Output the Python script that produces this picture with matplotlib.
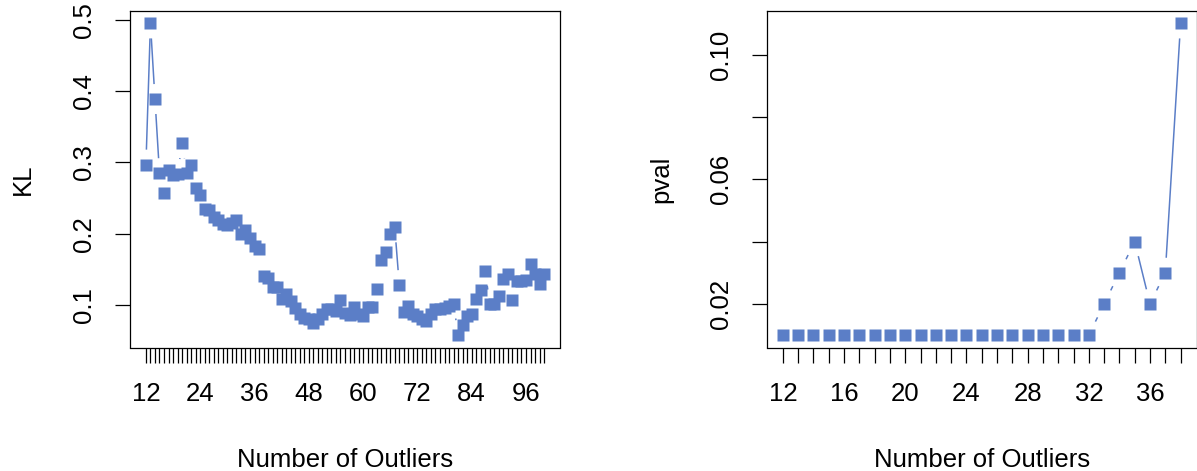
import matplotlib.pyplot as plt
import numpy as np

# Left panel: KL vs number of outliers
n_left = list(range(12, 101))
kl = [0.297, 0.495, 0.389, 0.285, 0.257, 0.289, 0.282, 0.284, 0.327, 0.285,
      0.297, 0.264, 0.254, 0.235, 0.234, 0.223, 0.219, 0.214, 0.212, 0.215,
      0.220, 0.200, 0.205, 0.194, 0.183, 0.178, 0.141, 0.138, 0.126, 0.125,
      0.108, 0.115, 0.106, 0.096, 0.087, 0.082, 0.080, 0.075, 0.081, 0.087,
      0.094, 0.094, 0.092, 0.107, 0.089, 0.086, 0.098, 0.087, 0.085, 0.098,
      0.098, 0.122, 0.163, 0.175, 0.200, 0.209, 0.128, 0.090, 0.099, 0.087,
      0.085, 0.080, 0.078, 0.087, 0.094, 0.095, 0.096, 0.099, 0.102, 0.058,
      0.072, 0.084, 0.088, 0.109, 0.121, 0.148, 0.101, 0.102, 0.113, 0.137,
      0.144, 0.107, 0.134, 0.134, 0.135, 0.158, 0.144, 0.129, 0.143]
left_xlabels = [12, 24, 36, 48, 60, 72, 84, 96]
left_yticks = [0.1, 0.2, 0.3, 0.4, 0.5]

# Right panel: pval vs number of outliers
n_right = list(range(12, 39))
pval = [0.01, 0.01, 0.01, 0.01, 0.01, 0.01, 0.01, 0.01, 0.01, 0.01,
        0.01, 0.01, 0.01, 0.01, 0.01, 0.01, 0.01, 0.01, 0.01, 0.01,
        0.01, 0.02, 0.03, 0.04, 0.02, 0.03, 0.11]
right_xlabels = [12, 16, 20, 24, 28, 32, 36]
right_yticks = [0.02, 0.04, 0.06, 0.08, 0.10]
right_ylabels = ['0.02', '', '0.06', '', '0.10']

plt.rcParams['font.family'] = ['Liberation Sans', 'DejaVu Sans']
plt.rcParams['font.size'] = 18.5

color = '#5B7EC7'
W, H = 1197, 471

fig = plt.figure(figsize=(W / 100, H / 100), dpi=100)
ax1 = fig.add_axes([130 / W, 1 - 347.5 / H, 430 / W, 336.5 / H])
ax2 = fig.add_axes([767 / W, 1 - 347.5 / H, 429.5 / W, 336.5 / H])


def r_range(v):
    # R style 4% padding
    lo, hi = min(v), max(v)
    pad = 0.04 * (hi - lo)
    return lo - pad, hi + pad


def draw(ax, x, y):
    ax.set_xlim(r_range(x))
    ax.set_ylim(r_range(y))
    # type = "b": line segments with a gap around every point
    pts = ax.transData.transform(np.column_stack([x, y]))
    gap = 15
    inv = ax.transData.inverted()
    for p, q in zip(pts[:-1], pts[1:]):
        d = q - p
        L = np.hypot(d[0], d[1])
        if L > 2 * gap:
            u = d / L
            seg = inv.transform(np.array([p + u * gap, q - u * gap]))
            ax.plot(seg[:, 0], seg[:, 1], color=color, lw=1.1,
                    solid_capstyle='butt')
    ax.plot(x, y, 's', color=color, ms=8.6, mec='none')


draw(ax1, n_left, kl)
draw(ax2, n_right, pval)

ax1.set_xticks(n_left, labels=[str(v) if v in left_xlabels else '' for v in n_left])
ax1.set_yticks(left_yticks, labels=[str(v) for v in left_yticks])
ax2.set_xticks(n_right, labels=[str(v) if v in right_xlabels else '' for v in n_right])
ax2.set_yticks(right_yticks, labels=right_ylabels)

for ax, yl, yx in [(ax1, 'KL', (22.5 - 130) / 430), (ax2, 'pval', (661.7 - 767) / 429.5)]:
    for s in ax.spines.values():
        s.set_linewidth(0.9)
    ax.tick_params(direction='out', length=10.8, width=0.9, pad=14)
    ax.tick_params(axis='y', labelrotation=90)
    for lab in ax.get_yticklabels():
        lab.set_va('center')
    ax.set_xlabel('Number of Outliers')
    ax.xaxis.set_label_coords(0.5, (347.5 - 460) / 336.5)
    ax.xaxis.label.set_va('center')
    ax.set_ylabel(yl)
    ax.yaxis.set_label_coords(yx, (347.5 - 179) / 336.5)
    ax.yaxis.label.set_va('center')

fig.savefig('out.png', dpi=100)
